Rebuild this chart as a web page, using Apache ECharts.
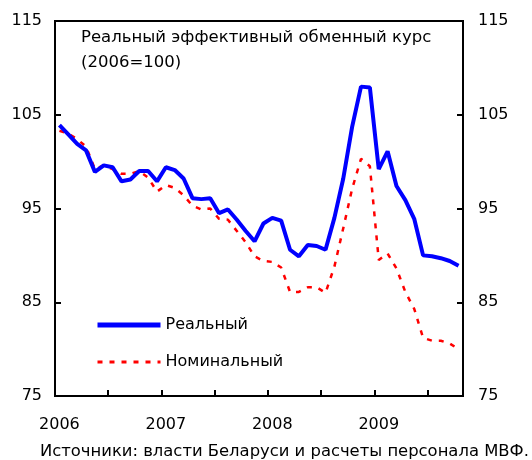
<!DOCTYPE html>
<html><head><meta charset="utf-8">
<script src="https://cdn.jsdelivr.net/npm/echarts@6/dist/echarts.min.js"></script>
<style>html,body{margin:0;padding:0;background:#fff}#c{width:532px;height:460px}</style>
</head><body><div id="c"></div>
<script>
const years = ['2006','2007','2008','2009'];
const months = [];
for (const y of years) for (let m = 1; m <= 12; m++) months.push(y + '-' + (m < 10 ? '0' + m : m));
const categories = months.slice(0, 46); // Jan 2006 .. Oct 2009
const realValues = [103.9,102.9,101.9,101.2,98.9,99.6,99.4,97.9,98.1,99.0,99.0,97.9,
  99.4,99.1,98.2,96.1,96.0,96.1,94.5,94.9,93.8,92.6,91.5,93.4,
  94.0,93.7,90.6,89.9,91.1,91.0,90.6,94.0,98.2,103.7,108.0,107.9,
  99.2,101.1,97.4,95.9,93.9,90.0,89.9,89.7,89.4,88.9];
const nominalValues = [103.3,103.0,102.4,101.6,99.2,99.6,99.2,98.7,98.7,99.0,98.3,96.8,
  97.5,97.2,96.4,95.3,94.9,95.0,93.9,93.8,92.6,91.4,89.9,89.4,
  89.3,88.7,86.1,86.1,86.6,86.6,86.0,88.8,92.9,97.1,100.3,99.5,
  89.5,90.2,88.6,86.1,84.3,81.2,80.9,80.9,80.6,80.0];
const yTicks = [75,85,95,105,115];
const seriesNames = ['Реальный','Номинальный'];
const titleText = 'Реальный эффективный обменный курс\n(2006=100)';
const sourceText = 'Источники: власти Беларуси и расчеты персонала МВФ.';

const FONT = 'DejaVu Sans, sans-serif';
const chart = echarts.init(document.getElementById('c'), null, {renderer:'canvas'});
const yAxisBase = {
  type:'value', min:yTicks[0], max:yTicks[yTicks.length-1], interval:10,
  splitLine:{show:false},
  axisLine:{show:true, lineStyle:{color:'#000', width:2}},
  axisTick:{show:true, inside:true, length:6, lineStyle:{color:'#000', width:2}},
  axisLabel:{color:'#000', fontSize:16, fontFamily:FONT, margin:13}
};
chart.setOption({
  animation:false,
  backgroundColor:'#fff',
  grid:{left:55, right:69, top:21, bottom:64, show:true, borderColor:'#000', borderWidth:2, backgroundColor:'transparent'},
  title:{text:titleText, left:81, top:25, padding:0, textStyle:{fontSize:16.5, fontWeight:'normal', color:'#000', fontFamily:FONT, lineHeight:25}},
  legend:{orient:'vertical', left:95, top:315, padding:0, itemWidth:63, itemHeight:14, itemGap:17,
    itemStyle:{opacity:0},
    textStyle:{fontSize:16, color:'#000', fontFamily:FONT, lineHeight:20},
    data:[{name:seriesNames[0], lineStyle:{width:5}}, {name:seriesNames[1], lineStyle:{width:3}}]},
  xAxis:{type:'category', data:categories, boundaryGap:true,
    axisLine:{lineStyle:{color:'#000', width:2}},
    axisTick:{show:true, inside:true, length:6, interval:5, lineStyle:{color:'#000', width:2}},
    axisLabel:{interval:11, color:'#000', fontSize:16, fontFamily:FONT, margin:21,
      formatter:v => v.slice(0,4)},
    splitLine:{show:false}},
  yAxis:[Object.assign({position:'left'}, yAxisBase),
         Object.assign({position:'right'}, yAxisBase, {axisLabel:Object.assign({}, yAxisBase.axisLabel, {margin:15})})],
  series:[
    {name:seriesNames[0], type:'line', data:realValues, symbol:'none', lineStyle:{color:'#0000ff', width:4}, itemStyle:{color:'#0000ff'}, z:3},
    {name:seriesNames[1], type:'line', data:nominalValues, symbol:'none', lineStyle:{color:'#ff0000', width:2.5, type:[5,7]}, itemStyle:{color:'#ff0000'}, z:2}
  ],
  graphic:[{type:'text', left:40, top:444, style:{text:sourceText, fontSize:16.4, fontFamily:FONT, fill:'#000'}}]
});
</script></body></html>
